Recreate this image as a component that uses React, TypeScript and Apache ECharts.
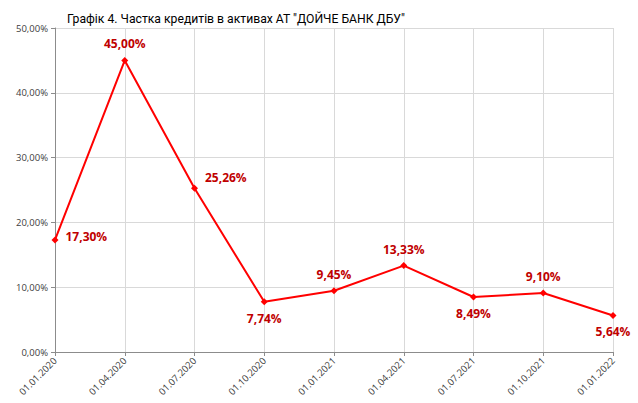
import React, { useEffect, useRef } from "react";
import * as echarts from "echarts";

const title = 'Графік 4. Частка кредитів в активах АТ "ДОЙЧЕ БАНК ДБУ"';
const categories = [
  "01.01.2020",
  "01.04.2020",
  "01.07.2020",
  "01.10.2020",
  "01.01.2021",
  "01.04.2021",
  "01.07.2021",
  "01.10.2021",
  "01.01.2022",
];
const values = [17.3, 45.0, 25.26, 7.74, 9.45, 13.33, 8.49, 9.1, 5.64];
const labelPositions = ["right", "top", "right", "bottom", "top", "top", "bottom", "top", "bottom"];

const fmt = (v: number) => v.toFixed(2).replace(".", ",") + "%";

export default function App() {
  const ref = useRef<HTMLDivElement>(null);
  useEffect(() => {
    if (!ref.current) return;
    const chart = echarts.init(ref.current, null, { renderer: "svg" });
    const font = "'Open Sans', 'Liberation Sans', sans-serif";
    const data = values.map((v, i) => {
      const pos = labelPositions[i];
      const label: any = { position: pos };
      if (i === 2) label.offset = [0, -11];
      if (i === 0) label.offset = [0, -3];
      return { value: v, label };
    });
    chart.setOption({
      animation: false,
      backgroundColor: "#ffffff",
      title: {
        text: title,
        left: 62,
        top: 8,
        textStyle: {
          fontFamily: "Roboto, sans-serif",
          fontSize: 12.2,
          fontWeight: "normal",
          color: "#000",
        },
      },
      grid: { left: 55, right: 25, top: 28, bottom: 51, containLabel: false },
      xAxis: {
        type: "category",
        data: categories,
        boundaryGap: false,
        axisLine: { lineStyle: { color: "#8c8c8c" } },
        axisTick: { show: true, alignWithLabel: true, length: 4, lineStyle: { color: "#8c8c8c" } },
        axisLabel: { rotate: 45, fontFamily: font, fontSize: 9.5, color: "#404040", margin: 7 },
        splitLine: { show: true, lineStyle: { color: "#d9d9d9" } },
      },
      yAxis: {
        type: "value",
        min: 0,
        max: 50,
        interval: 10,
        axisLine: { show: true, lineStyle: { color: "#8c8c8c" } },
        axisTick: { show: true, length: 4, lineStyle: { color: "#8c8c8c" } },
        axisLabel: {
          fontFamily: font,
          fontSize: 9.5,
          color: "#404040",
          margin: 7,
          formatter: (v: number) => fmt(v),
        },
        splitLine: { show: true, lineStyle: { color: "#d9d9d9" } },
      },
      series: [
        {
          type: "line",
          data,
          symbol: "diamond",
          symbolSize: 7,
          lineStyle: { color: "#ff0000", width: 2 },
          itemStyle: { color: "#ff0000" },
          label: {
            show: true,
            distance: 7,
            fontFamily: font,
            fontSize: 12,
            fontWeight: "bold",
            color: "#c00000",
            formatter: (p: any) => fmt(p.value),
          },
        },
      ],
    });
    return () => chart.dispose();
  }, []);
  return (
    <div
      ref={ref}
      style={{ position: "absolute", left: 0, top: 0, width: 638, height: 403 }}
    />
  );
}
